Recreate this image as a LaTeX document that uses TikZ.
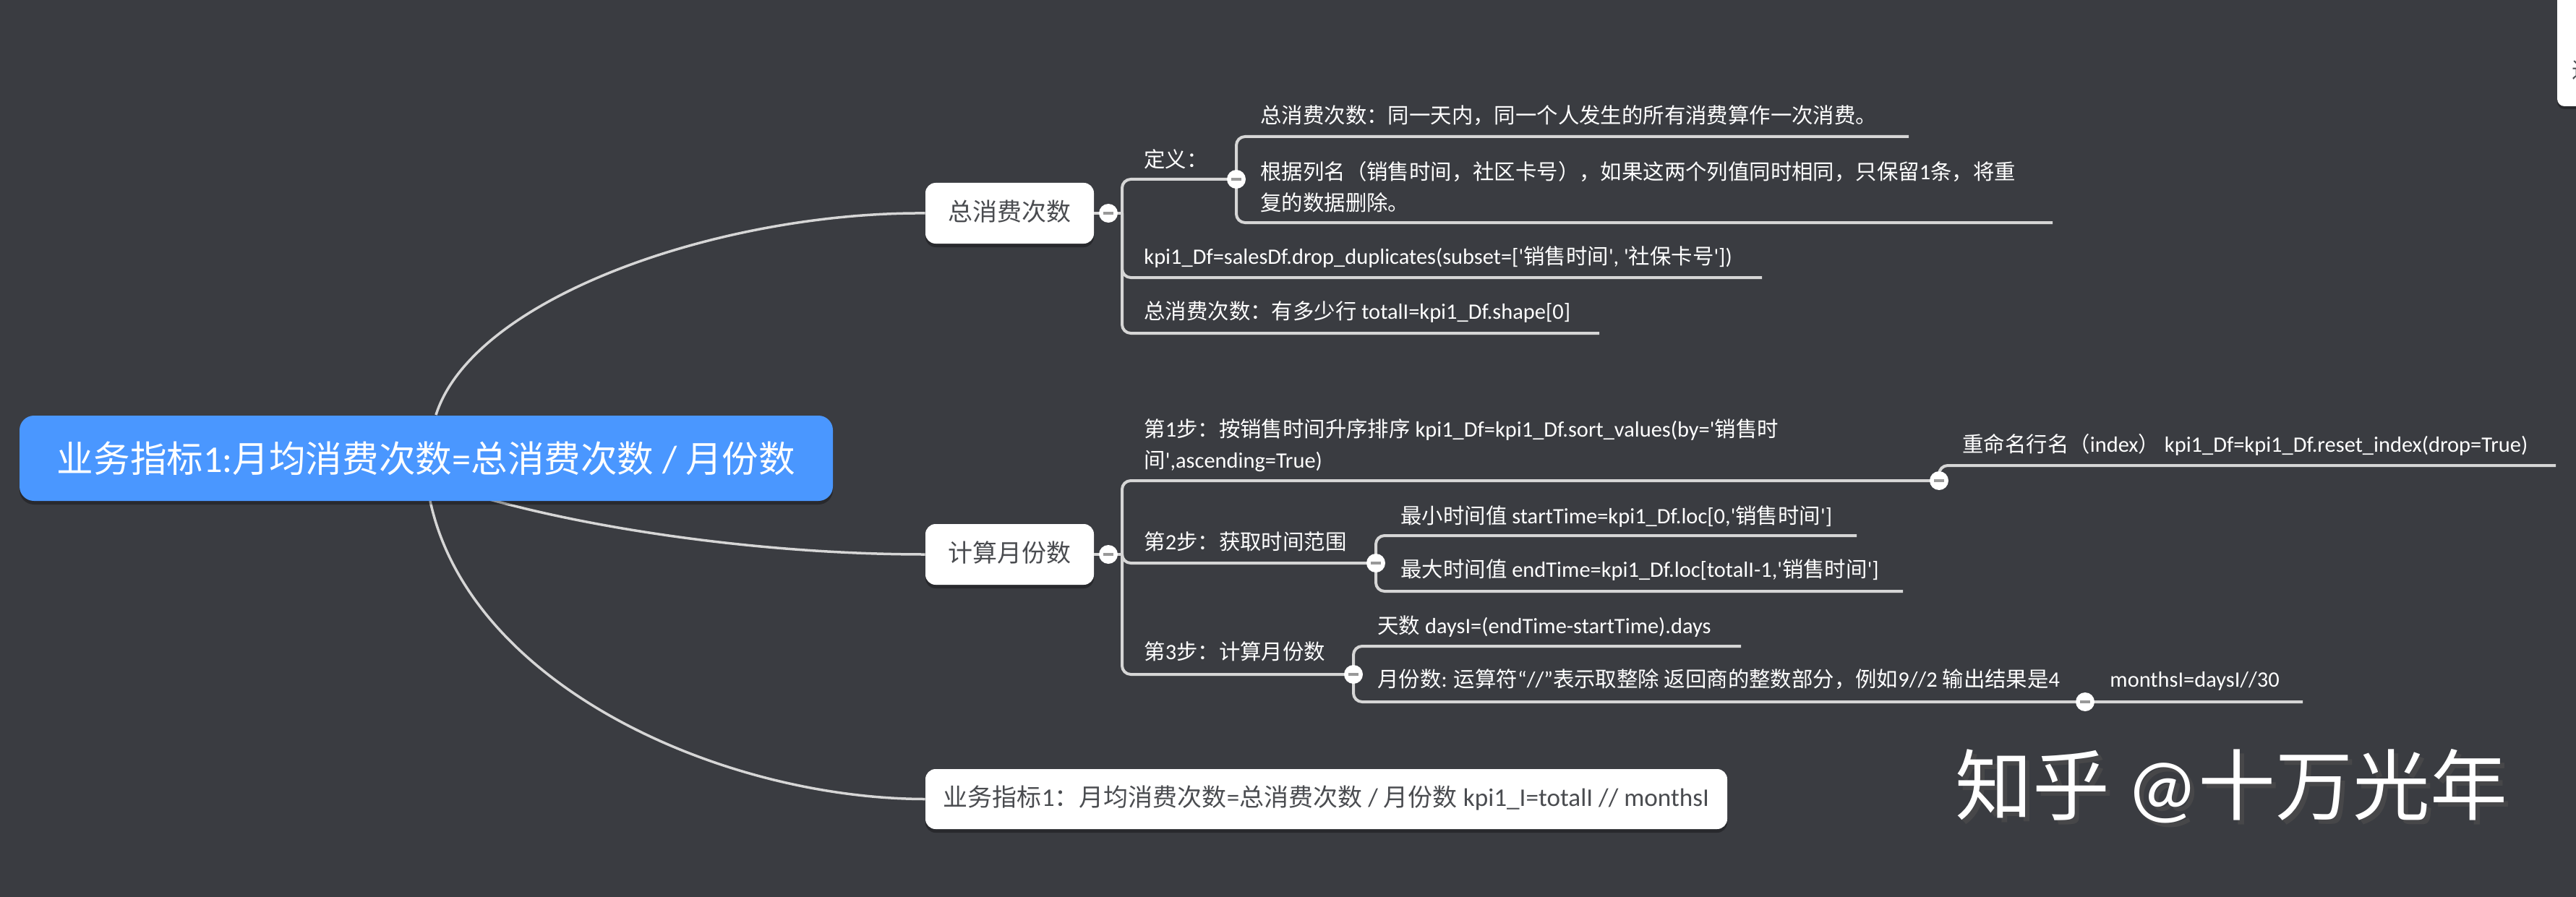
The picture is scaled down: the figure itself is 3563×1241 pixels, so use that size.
\documentclass[tikz,border=0pt]{standalone}
\usepackage{fontspec}
\usetikzlibrary{shadows,backgrounds}
\newfontfamily\cn{Noto Sans CJK SC}
\newfontfamily\latf[Scale=1.035]{Carlito}
\newcommand{\lat}[1]{{\latf #1}}
\definecolor{bgc}{HTML}{3A3C41}
\definecolor{linec}{HTML}{D6D6D6}
\definecolor{rootc}{HTML}{4A97FF}
\definecolor{darkt}{HTML}{4A4C50}
\newcommand{\fsz}[1]{\fontsize{#1pt}{#1pt}\selectfont}
\newcommand{\brnch}[3]{\draw[branch] (#2 |- #1) -- (#2 |- #3) -- (#3);}
\tikzset{
  x=0.5pt,y=-0.5pt,
  branch/.style={draw=linec,line width=2pt,rounded corners=6pt,line cap=butt},
  curvec/.style={draw=linec,line width=1.75pt},
  topicbox/.style={fill=white,rounded corners=7pt,inner sep=0pt,text=darkt,
    font={\cn\fsz{17}},text height=13.5pt,text depth=3.5pt,
    drop shadow={shadow xshift=0pt,shadow yshift=-2.5pt,opacity=.3,fill=black}},
  rootbox/.style={fill=rootc,rounded corners=10pt,inner sep=0pt,text=white,
    font={\cn\fsz{25.3}},minimum width=562.5pt,minimum height=59pt,
    drop shadow={shadow xshift=0pt,shadow yshift=-2.5pt,opacity=.3,fill=black}},
  leaf/.style={anchor=west,inner sep=0pt,text=white,font={\cn\fsz{14.7}},text height=12.5pt,text depth=2pt},
  leafml/.style={anchor=west,inner sep=0pt,text=white,align=left,font={\cn\fontsize{14.7pt}{21.5pt}\selectfont}},
  collapse/.style={circle,fill=white,minimum size=13pt,inner sep=0pt,
    path picture={\fill[gray!80] ([xshift=-3.4pt,yshift=-1pt]path picture bounding box.center) rectangle ([xshift=3.4pt,yshift=1pt]path picture bounding box.center);}},
  wmark/.style={anchor=center,inner sep=0pt,font={\cn\fsz{53.4}}},
}
\begin{document}
\begin{tikzpicture}
\useasboundingbox (0,0) rectangle (3563,1241);
% topics
\node[rootbox] (root) at (589.5,634) {业务指标\lat{1:}月均消费次数\lat{=}总消费次数\lat{ / }月份数};
\node[topicbox,minimum width=116.5pt,minimum height=42pt] (n1) at (1396.5,295) {总消费次数};
\node[topicbox,minimum width=116.5pt,minimum height=42pt] (n2) at (1396.5,767) {计算月份数};
\node[topicbox,minimum width=554.5pt,minimum height=41.5pt] (n3) at (1834.5,1105.5) {业务指标\lat{1}：月均消费次数\lat{=}总消费次数\lat{ / }月份数\lat{ kpi1\_I=totalI // monthsI}};
% collapse buttons
\node[collapse] (c1) at (1533,295) {};
\node[collapse] (c11) at (1710,248) {};
\node[collapse] (c2) at (1533,767) {};
\node[collapse] (c21) at (2682,665) {};
\node[collapse] (c22) at (1903,779) {};
\node[collapse] (c23) at (1872,933) {};
\node[collapse] (c232) at (2884,971) {};
% trunks and free ends
\coordinate (t1) at (1552,295);
\coordinate (t2) at (1552,767);
\coordinate (e111) at (2640,189);
\coordinate (e112) at (2839,308);
\coordinate (e12) at (2437,384);
\coordinate (e13) at (2212,461);
\coordinate (e211) at (3535,644);
\coordinate (e221) at (2568,741);
\coordinate (e222) at (2632,818);
\coordinate (e231) at (2408,894);
\coordinate (e233) at (3185,971);
\coordinate (r1) at (603,574);
\coordinate (r2) at (640,680);
\coordinate (r3) at (595,693);
% leaves
\node[leaf] (a111) at (1743,160) {总消费次数：同一天内，同一个人发生的所有消费算作一次消费。};
\node[leafml] (a112) at (1743,259) {根据列名（销售时间，社区卡号），如果这两个列值同时相同，只保留\lat{1}条，将重\\复的数据删除。};
\node[leaf] (a11) at (1582,221) {定义：};
\node[leaf] (a12) at (1582,355) {\lat{kpi1\_Df=salesDf.drop\_duplicates(subset=['}销售时间\lat{', '}社保卡号\lat{'])}};
\node[leaf] (a13) at (1582,431) {总消费次数：有多少行\lat{ totalI=kpi1\_Df.shape[0]}};
\node[leafml] (a21) at (1582,616) {第\lat{1}步：按销售时间升序排序\lat{ kpi1\_Df=kpi1\_Df.sort\_values(by='}销售时\\间\lat{',ascending=True)}};
\node[leaf] (a211) at (2714,615) {重命名行名（\lat{index}）\lat{ kpi1\_Df=kpi1\_Df.reset\_index(drop=True)}};
\node[leaf] (a22) at (1582,750) {第\lat{2}步：获取时间范围};
\node[leaf] (a221) at (1937,714) {最小时间值\lat{ startTime=kpi1\_Df.loc[0,'}销售时间\lat{']}};
\node[leaf] (a222) at (1937,788) {最大时间值\lat{ endTime=kpi1\_Df.loc[totalI-1,'}销售时间\lat{']}};
\node[leaf] (a23) at (1582,902) {第\lat{3}步：计算月份数};
\node[leaf] (a231) at (1905,866) {天数\lat{ daysI=(endTime-startTime).days}};
\node[leaf] (a232) at (1905,940) {月份数\lat{: }运算符\lat{“//”}表示取整除\lat{ }返回商的整数部分，例如\lat{9//2 }输出结果是\lat{4}};
\node[leaf] (a233) at (2918,940) {\lat{monthsI=daysI//30}};
% watermark
\node[wmark,text=black!70,opacity=.75] (wms) at (3092,1094) {知乎 \lat{@}十万光年};
\node[wmark,text=white] (wm) at (3086,1088) {知乎 \lat{@}十万光年};
% side panel, cut by the picture edge
\begin{scope}
\clip (0,0) rectangle (3563,1241);
\fill[white,rounded corners=5pt,drop shadow={shadow xshift=0pt,shadow yshift=-2pt,opacity=.3,fill=black}] (3537,-40) rectangle (3640,147);
\node[inner sep=0pt,text=darkt,font={\cn\fsz{15}}] (side) at (3572,97) {进};
\end{scope}
% connectors under everything
\begin{pgfonlayer}{background}
\fill[bgc] (0,0) rectangle (3563,1241);
\draw[curvec] (r1) .. controls (655,410) and (1000,293) .. (n1.west);
\draw[curvec] (r2) .. controls (800,730) and (1050,767) .. (n2.west);
\draw[curvec] (r3) .. controls (650,950) and (1000,1105) .. (n3.west);
\draw[branch] (n1.east) -- (t1);
\draw[branch] (n2.east) -- (t2);
\brnch{t1}{t1}{c11.center}
\brnch{t1}{t1}{e12}
\brnch{t1}{t1}{e13}
\brnch{c11.center}{c11.center}{e111}
\brnch{c11.center}{c11.center}{e112}
\brnch{t2}{t2}{c21.center}
\brnch{t2}{t2}{c22.center}
\brnch{t2}{t2}{c23.center}
\brnch{c21.center}{c21.center}{e211}
\brnch{c22.center}{c22.center}{e221}
\brnch{c22.center}{c22.center}{e222}
\brnch{c23.center}{c23.center}{e231}
\brnch{c23.center}{c23.center}{e233}
\end{pgfonlayer}
\end{tikzpicture}
\end{document}
